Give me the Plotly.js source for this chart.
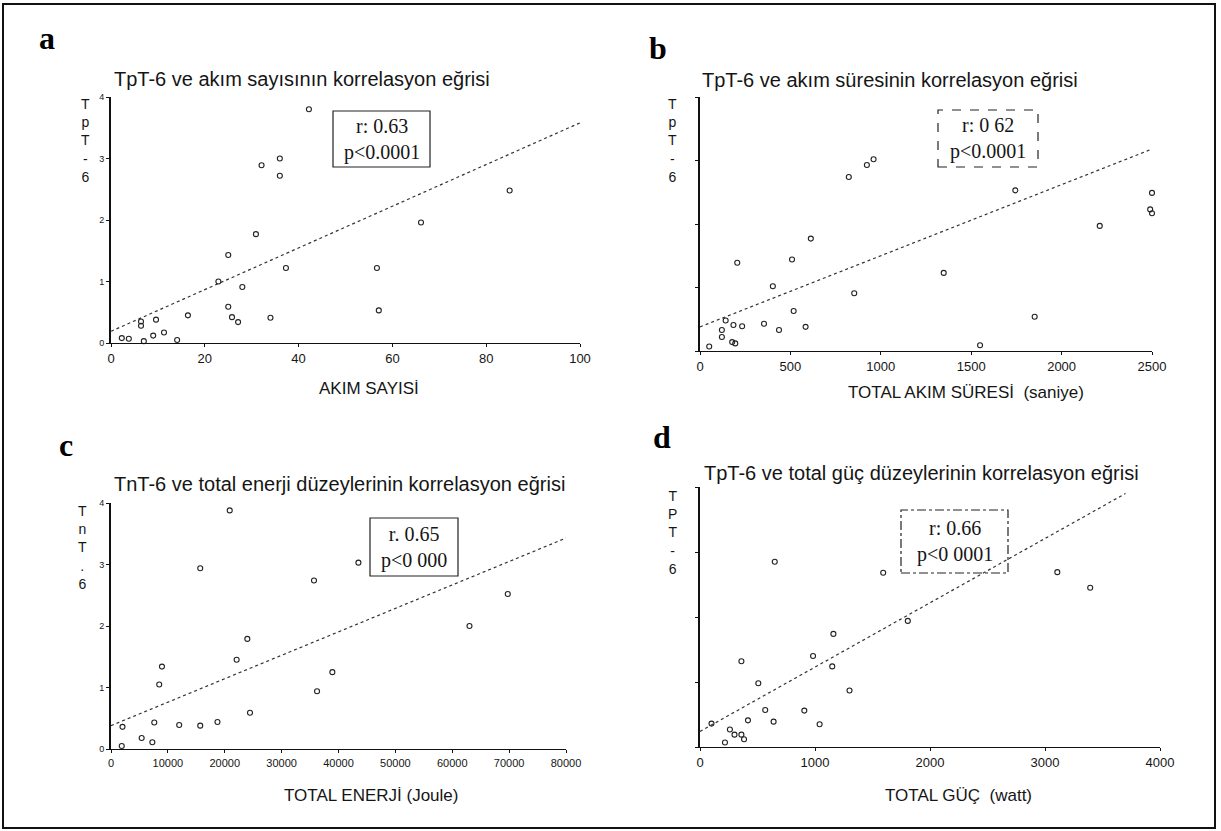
<!DOCTYPE html>
<html>
<head>
<meta charset="utf-8">
<script src="https://cdn.plot.ly/plotly-3.0.1.min.js"></script>
<style>html,body{margin:0;padding:0;background:#fff;}#chart{width:1221px;height:831px;}</style>
</head>
<body>
<div id="chart"></div>
<script>
// ---- data ----
const aX = [42.2, 32.1, 36.0, 36.0, 85.0, 66.1, 30.9, 25.0, 37.3, 56.7, 22.9, 28.0, 25.0, 25.8, 27.1, 34.0, 57.1, 16.4, 9.0, 11.3, 9.6, 6.4, 6.4, 3.8, 7.0, 14.1, 2.3];
const aY = [3.80, 2.89, 3.00, 2.72, 2.48, 1.96, 1.77, 1.43, 1.22, 1.22, 1.00, 0.91, 0.59, 0.42, 0.34, 0.41, 0.53, 0.45, 0.12, 0.17, 0.38, 0.28, 0.35, 0.07, 0.03, 0.05, 0.08];
const aLineX = [0, 100];
const aLineY = [0.19, 3.58];

const bX = [823, 923, 960, 1744, 2500, 2490, 2500, 2211, 613, 509, 206, 1348, 403, 853, 518, 1851, 354, 584, 437, 142, 185, 233, 121, 121, 178, 195, 51, 1549];
const bY = [2.74, 2.93, 3.02, 2.53, 2.49, 2.23, 2.17, 1.97, 1.77, 1.44, 1.39, 1.23, 1.02, 0.91, 0.63, 0.54, 0.43, 0.38, 0.33, 0.48, 0.41, 0.39, 0.33, 0.22, 0.14, 0.12, 0.07, 0.09];
const bLineX = [0, 2500];
const bLineY = [0.38, 3.18];

const cX = [20875, 15690, 43500, 35690, 69760, 63030, 23970, 22090, 8960, 38920, 8480, 36230, 24440, 7610, 18720, 11990, 15690, 2020, 5390, 7270, 1890];
const cY = [3.88, 2.94, 3.03, 2.74, 2.52, 2.00, 1.79, 1.45, 1.34, 1.25, 1.05, 0.94, 0.59, 0.43, 0.44, 0.39, 0.38, 0.36, 0.18, 0.11, 0.05];
const cLineX = [0, 80000];
const cLineY = [0.38, 3.43];

const dX = [650, 1593, 3107, 3393, 1807, 1160, 983, 1150, 360, 1300, 507, 567, 907, 417, 640, 1040, 100, 260, 360, 383, 300, 217];
const dY = [2.85, 2.68, 2.69, 2.45, 1.94, 1.74, 1.40, 1.24, 1.32, 0.87, 0.98, 0.57, 0.56, 0.41, 0.39, 0.35, 0.36, 0.27, 0.19, 0.12, 0.19, 0.07];
const dLineX = [0, 3700];
const dLineY = [0.24, 3.90];

const yTicks = [0, 1, 2, 3, 4];
const aXTicks = [0, 20, 40, 60, 80, 100];
const bXTicks = [0, 500, 1000, 1500, 2000, 2500];
const cXTicks = [0, 10000, 20000, 30000, 40000, 50000, 60000, 70000, 80000];
const dXTicks = [0, 1000, 2000, 3000, 4000];

const titles = [
  'TpT-6 ve akım sayısının korrelasyon eğrisi',
  'TpT-6 ve akım süresinin korrelasyon eğrisi',
  'TnT-6 ve total enerji düzeylerinin korrelasyon eğrisi',
  'TpT-6 ve total güç düzeylerinin korrelasyon eğrisi'
];
const xTitles = ['AKIM SAYISİ', 'TOTAL AKIM SÜRESİ\u00a0\u00a0(saniye)', 'TOTAL ENERJİ (Joule)', 'TOTAL GÜÇ\u00a0\u00a0(watt)'];
const yLetters = ['T<br>p<br>T<br>-<br>6', 'T<br>p<br>T<br>-<br>6', 'T<br>n<br>T<br>.<br>6', 'T<br>P<br>T<br>-<br>6'];
const panelLetters = ['a', 'b', 'c', 'd'];
const stats = ['r: 0.63<br>p&lt;0.0001', 'r: 0 62<br>p&lt;0.0001', 'r. 0.65<br>p&lt;0 000', 'r: 0.66<br>p&lt;0 0001'];

// ---- layout helpers (pixel -> paper) ----
const W = 1221, H = 831;
const px = v => v / W;
const py = v => 1 - v / H;
const SANS = 'Liberation Sans, Arial, sans-serif';
const SERIF = 'Liberation Serif, Times New Roman, serif';
const INK = '#151515';

// plot area boxes in pixels: [left, right, top(y=4), bottom(y=0)]
const boxes = [
  [111, 580, 97, 343],
  [700, 1152, 97, 351],
  [111, 566, 503, 749],
  [700, 1160, 487, 747]
];

const series = [
  [aX, aY, aLineX, aLineY],
  [bX, bY, bLineX, bLineY],
  [cX, cY, cLineX, cLineY],
  [dX, dY, dLineX, dLineY]
];
const xRanges = [[0, 100], [0, 2500], [0, 80000], [0, 4000]];
const xTickSets = [aXTicks, bXTicks, cXTicks, dXTicks];
const xTickFont = [13, 13, 11, 13];

const data = [];
series.forEach((s, i) => {
  const xa = i === 0 ? 'x' : 'x' + (i + 1);
  const ya = i === 0 ? 'y' : 'y' + (i + 1);
  data.push({
    x: s[2], y: s[3], xaxis: xa, yaxis: ya, mode: 'lines', type: 'scatter',
    line: {color: '#333', width: 1.2, dash: 'dot'}, hoverinfo: 'skip', cliponaxis: false
  });
  data.push({
    x: s[0], y: s[1], xaxis: xa, yaxis: ya, mode: 'markers', type: 'scatter',
    marker: {symbol: 'circle-open', size: 5, color: '#222', line: {width: 1.1, color: '#222'}},
    cliponaxis: false
  });
});

const layout = {
  width: W, height: H,
  margin: {l: 0, r: 0, t: 0, b: 0},
  paper_bgcolor: '#fff', plot_bgcolor: 'rgba(0,0,0,0)',
  showlegend: false,
  font: {family: SANS, color: INK},
  annotations: [],
  shapes: [
    {type: 'rect', xref: 'paper', yref: 'paper', x0: px(3), x1: px(1215), y0: py(828), y1: py(4),
     line: {color: '#111', width: 2}}
  ]
};

// text positions in pixels
const titlePos = [[112, 79], [700, 80], [112, 484], [702, 473]];
const letterPos = [[47, 38], [658, 48], [66, 445], [662, 437]];
const yLetterPos = [[85, 141], [673, 140], [83, 547], [673, 532]];
const xTitlePos = [[369, 388], [966, 392], [371, 795], [958, 795]];
const statBox = [[333, 430, 111, 167], [938, 1038, 110, 167], [370, 458, 518, 576], [901, 1008, 510, 573]];
const statDash = ['solid', 'dash', 'solid', 'dashdot'];

boxes.forEach((b, i) => {
  const sfx = i === 0 ? '' : String(i + 1);
  layout['xaxis' + sfx] = {
    domain: [px(b[0]), px(b[1])], anchor: 'y' + sfx, range: xRanges[i],
    showgrid: false, zeroline: false, showline: true, linecolor: '#111', linewidth: 1.3,
    ticks: 'outside', ticklen: 3, tickcolor: '#111', tickvals: xTickSets[i],
    ticktext: xTickSets[i].map(String),
    tickfont: {size: xTickFont[i], family: SANS, color: INK}, fixedrange: true
  };
  layout['yaxis' + sfx] = {
    domain: [py(b[3]), py(b[2])], anchor: 'x' + sfx, range: [0, 4],
    showgrid: false, zeroline: false, showline: true, linecolor: '#111', linewidth: 2,
    ticks: 'outside', ticklen: 3, tickcolor: '#111', tickvals: yTicks,
    ticktext: yTicks.map(String), showticklabels: (i === 0 || i === 2),
    tickfont: {size: 9, family: SANS, color: INK}, fixedrange: true
  };
  layout.annotations.push({
    xref: 'paper', yref: 'paper', x: px(titlePos[i][0]), y: py(titlePos[i][1]),
    xanchor: 'left', yanchor: 'middle', showarrow: false, text: titles[i],
    font: {family: SANS, size: 20, color: INK}
  });
  layout.annotations.push({
    xref: 'paper', yref: 'paper', x: px(letterPos[i][0]), y: py(letterPos[i][1]),
    xanchor: 'center', yanchor: 'middle', showarrow: false, text: '<b>' + panelLetters[i] + '</b>',
    font: {family: SERIF, size: 32, color: '#000'}
  });
  layout.annotations.push({
    xref: 'paper', yref: 'paper', x: px(yLetterPos[i][0]), y: py(yLetterPos[i][1]),
    xanchor: 'center', yanchor: 'middle', showarrow: false, text: yLetters[i],
    font: {family: SANS, size: 14, color: INK}
  });
  layout.annotations.push({
    xref: 'paper', yref: 'paper', x: px(xTitlePos[i][0]), y: py(xTitlePos[i][1]),
    xanchor: 'center', yanchor: 'middle', showarrow: false, text: xTitles[i],
    font: {family: SANS, size: 17, color: INK}
  });
  const sb = statBox[i];
  layout.shapes.push({type: 'rect', xref: 'paper', yref: 'paper',
    x0: px(sb[0]), x1: px(sb[1]), y0: py(sb[3]), y1: py(sb[2]),
    line: {color: '#222', width: 1.2, dash: statDash[i]}, fillcolor: 'rgba(255,255,255,0)'});
  layout.annotations.push({
    xref: 'paper', yref: 'paper', x: px((sb[0] + sb[1]) / 2), y: py((sb[2] + sb[3]) / 2),
    xanchor: 'center', yanchor: 'middle', showarrow: false, text: stats[i], align: 'center',
    font: {family: SERIF, size: 20, color: INK}
  });
});

Plotly.newPlot('chart', data, layout, {staticPlot: true, displayModeBar: false});
</script>
</body>
</html>
